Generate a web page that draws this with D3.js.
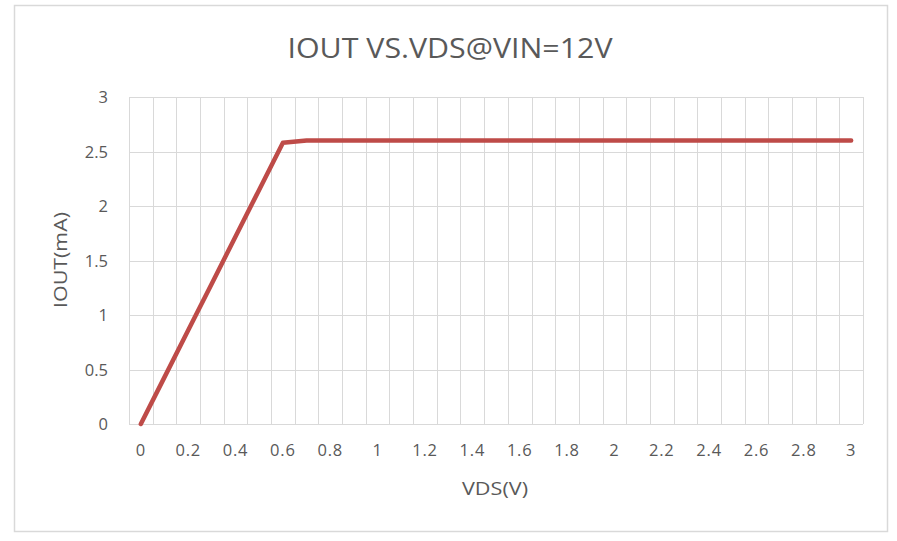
<!DOCTYPE html>
<html><head><meta charset="utf-8">
<script src="https://cdn.jsdelivr.net/npm/d3@7"></script>
<style>body{margin:0;background:#fff;}svg{display:block;}</style>
</head><body>
<script>
const categories = ["0","0.1","0.2","0.3","0.4","0.5","0.6","0.7","0.8","0.9","1","1.1","1.2","1.3","1.4","1.5","1.6","1.7","1.8","1.9","2","2.1","2.2","2.3","2.4","2.5","2.6","2.7","2.8","2.9","3"];
const ioutValues = [0,0.43,0.86,1.29,1.72,2.15,2.58,2.6,2.6,2.6,2.6,2.6,2.6,2.6,2.6,2.6,2.6,2.6,2.6,2.6,2.6,2.6,2.6,2.6,2.6,2.6,2.6,2.6,2.6,2.6,2.6];
const xTickLabels = ["0","0.2","0.4","0.6","0.8","1","1.2","1.4","1.6","1.8","2","2.2","2.4","2.6","2.8","3"];
const yTicks = [0,0.5,1,1.5,2,2.5,3];
const title = "IOUT VS.VDS@VIN=12V";
const xTitle = "VDS(V)";
const yTitle = "IOUT(mA)";

const W = 897, H = 541;
const plot = {left:129, right:863, top:97, bottom:424};
const font = "'Open Sans', 'Liberation Sans', sans-serif";
const txt = "#595959", grid = "#d9d9d9";

const svg = d3.select("body").append("svg").attr("width",W).attr("height",H);
svg.append("rect").attr("x",14.5).attr("y",5.5).attr("width",873).attr("height",526)
  .attr("fill","#fff").attr("stroke",grid).attr("stroke-width",1.5);

const x = d3.scaleBand().domain(categories).range([plot.left,plot.right]).padding(0);
const y = d3.scaleLinear().domain([0,3]).range([plot.bottom,plot.top]);

// vertical gridlines at category boundaries
const bounds = categories.map(c => x(c)).concat([plot.right]);
svg.append("g").selectAll("line").data(bounds).join("line")
  .attr("x1",d=>Math.round(d)+0.5).attr("x2",d=>Math.round(d)+0.5)
  .attr("y1",plot.top).attr("y2",plot.bottom).attr("stroke",grid).attr("stroke-width",1);
// horizontal gridlines
svg.append("g").selectAll("line").data(yTicks).join("line")
  .attr("x1",plot.left).attr("x2",plot.right)
  .attr("y1",d=>Math.round(y(d))+0.5).attr("y2",d=>Math.round(y(d))+0.5)
  .attr("stroke",grid).attr("stroke-width",1);

// y axis
const yAxis = d3.axisLeft(y).tickValues(yTicks).tickSize(0).tickPadding(21).tickFormat(d=>String(d));
const gy = svg.append("g").attr("transform",`translate(${plot.left},0)`).call(yAxis);
gy.select(".domain").remove();
gy.selectAll("text").attr("fill",txt).style("font-family",font).style("font-size","16.5px").attr("dy","0.35em");

// x axis
const xAxis = d3.axisBottom(x).tickValues(xTickLabels).tickSize(0).tickPadding(20);
const gx = svg.append("g").attr("transform",`translate(0,${plot.bottom})`).call(xAxis);
gx.select(".domain").remove();
gx.selectAll("text").attr("fill",txt).style("font-family",font).style("font-size","16.5px").style("letter-spacing","0.8px");

// line
const line = d3.line().x((d,i)=>x(categories[i])+x.bandwidth()/2).y(d=>y(d));
svg.append("path").datum(ioutValues).attr("d",line)
  .attr("fill","none").attr("stroke","#be4b48").attr("stroke-width",4.5)
  .attr("stroke-linejoin","round").attr("stroke-linecap","round");

// titles
svg.append("text").attr("x",450).attr("y",58).attr("text-anchor","middle")
  .attr("textLength",325).attr("lengthAdjust","spacingAndGlyphs")
  .attr("fill",txt).style("font-family",font).style("font-size","28px").text(title);
svg.append("text").attr("x",495).attr("y",495).attr("text-anchor","middle")
  .attr("textLength",66).attr("lengthAdjust","spacingAndGlyphs")
  .attr("fill",txt).style("font-family",font).style("font-size","18px").text(xTitle);
svg.append("text").attr("transform",`translate(67,260) rotate(-90)`)
  .attr("textLength",96).attr("lengthAdjust","spacingAndGlyphs")
  .attr("text-anchor","middle").attr("fill",txt).style("font-family",font).style("font-size","18px").text(yTitle);
</script>
</body></html>
